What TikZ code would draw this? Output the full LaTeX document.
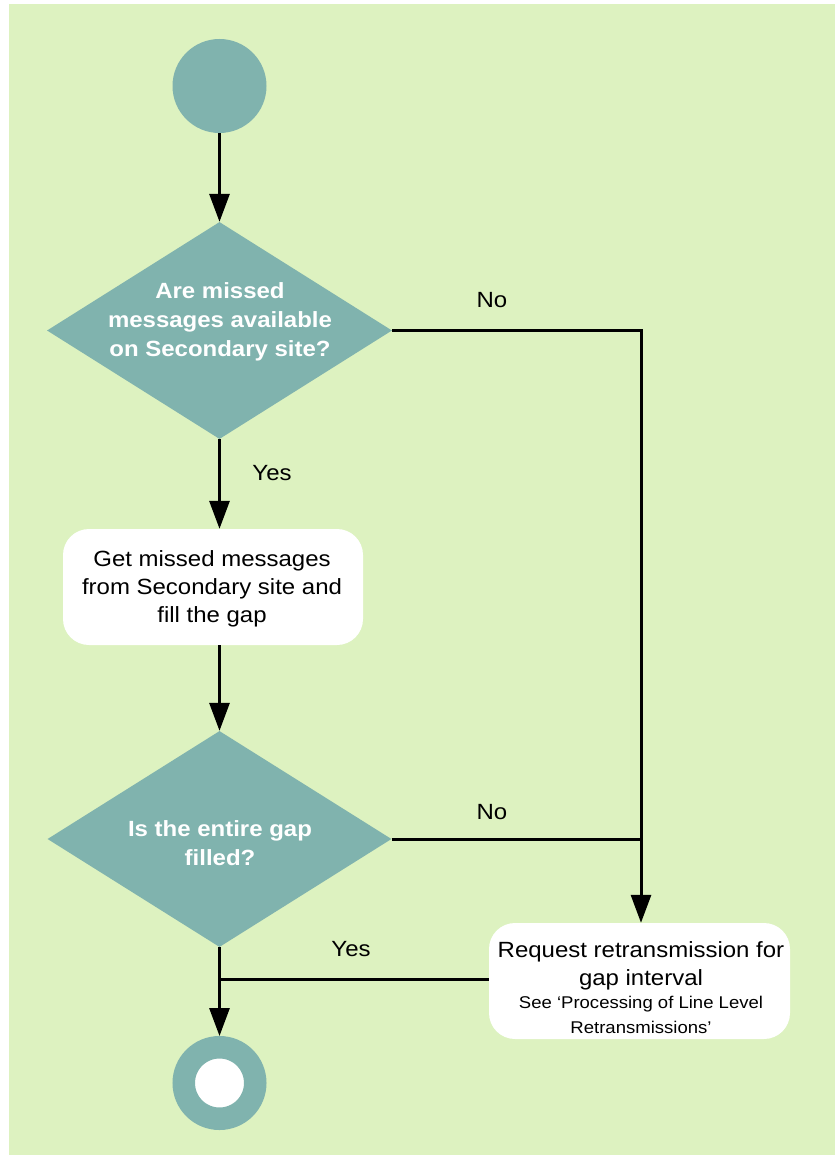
\documentclass[tikz,border=0pt]{standalone}
\usepackage{fontspec}
\setmainfont{Liberation Sans}[FakeStretch=1.09]
\usetikzlibrary{shapes.geometric,arrows.meta}
\definecolor{bgcol}{RGB}{221,242,192}
\definecolor{teal}{RGB}{128,179,174}
\tikzset{
  dia/.style={shape=diamond, fill=teal, draw=none, inner sep=0pt, minimum width=345pt, minimum height=217pt},
  diatext/.style={text=white, font=\fontsize{22}{29}\selectfont\bfseries, align=center, inner sep=0pt},
  stepbox/.style={shape=rectangle, rounded corners=26pt, fill=white, draw=none, inner sep=0pt, minimum width=300pt, minimum height=116pt},
  boxtext/.style={text=black, font=\fontsize{22}{28}\selectfont, align=center, inner sep=0pt},
  lbl/.style={text=black, font=\fontsize{22}{28}\selectfont, inner sep=0pt, anchor=base},
  conn/.style={line width=3pt, draw=black},
  arr/.style={conn, -{Triangle[length=28pt,width=20pt]}},
}
\begin{document}
\begin{tikzpicture}[x=1pt,y=-1pt]
\useasboundingbox (0,0) rectangle (835,1155);
\fill[bgcol] (9,4) rectangle (835,1155);
% nodes
\node[shape=circle, fill=teal, inner sep=0pt, minimum size=94pt] (start) at (219.5,86) {};
\node[dia] (d1) at (219.5,330.5) {};
\node[diatext, anchor=base] (d1t) at (220,356) {Are missed\\messages available\\on Secondary site?};
\node[stepbox] (b1) at (213,587) {};
\node[boxtext, anchor=base] (b1t) at (212,622) {Get missed messages\\from Secondary site and\\fill the gap};
\node[dia, minimum height=216pt, minimum width=344pt] (d2) at (219.5,839) {};
\node[diatext, anchor=base] (d2t) at (220,865) {Is the entire gap\\filled?};
\node[stepbox, minimum width=301pt] (b2) at (639.5,981) {};
\node[boxtext, anchor=base] (b2t) at (641,1033) {Request retransmission for\\gap interval\\[-5pt]{\fontsize{17}{25}\selectfont See ‘Processing of Line Level}\\[-3pt]{\fontsize{17}{25}\selectfont Retransmissions’}};
\node[shape=circle, fill=white, draw=teal, line width=22.5pt, inner sep=0pt, minimum size=71.5pt] (end) at (219.5,1083) {};
% labels
\node[lbl] (no1) at (492,307) {No};
\node[lbl] (yes1) at (272,480) {Yes};
\node[lbl] (no2) at (492,819) {No};
\node[lbl] (yes2) at (351,956) {Yes};
\coordinate (c1) at (641,330.5);
\coordinate (c2) at (641,839);
\coordinate (c3) at (219.5,979);
% connectors
\draw[arr] (start.south) -- (d1.north);
\draw[arr] (d1.south) -- (d1.south |- b1.north);
\draw[arr] (d1.south |- b1.south) -- (d2.north);
\draw[arr] (d1.east) -- (c1) -- (c1 |- b2.north);
\draw[conn] (d2.east) -- (c2);
\draw[arr] (d2.south) -- (end.north);
\draw[conn] (b2.west |- c3) -- (c3);
\end{tikzpicture}
\end{document}
